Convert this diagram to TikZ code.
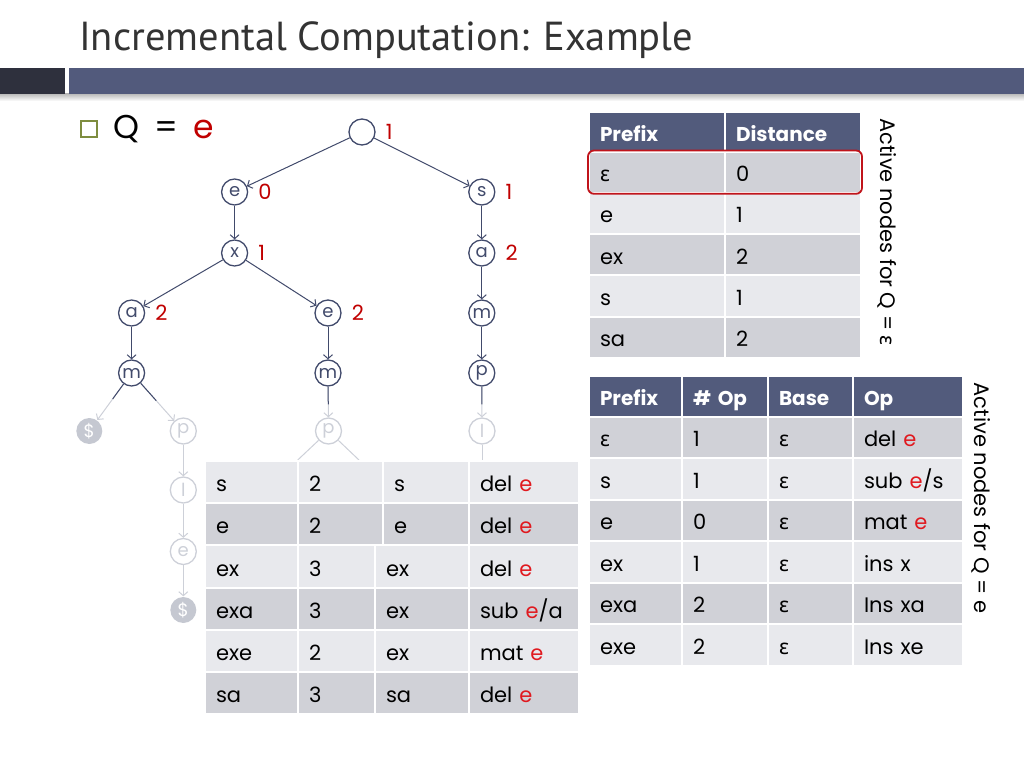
\documentclass[tikz,border=0pt]{standalone}
\usepackage{fontspec}
\setmainfont{Poppins}
\newfontfamily\titlefont{PT Sans}
\newfontfamily\grkfont{Noto Sans}
\usepackage{tikz}
\usetikzlibrary{arrows.meta,positioning,fit,calc}
\usepackage{xcolor}
\definecolor{headblue}{HTML}{525B7C}
\definecolor{rowdark}{HTML}{D0D1D7}
\definecolor{rowlight}{HTML}{E8E9ED}
\definecolor{bardark}{HTML}{2E303D}
\definecolor{barblue}{HTML}{525A7C}
\definecolor{treeblue}{HTML}{414A6B}
\definecolor{fadegray}{HTML}{CDD0D8}
\definecolor{dolfill}{HTML}{C5C8D1}
\definecolor{treered}{HTML}{C00000}
\definecolor{opred}{HTML}{E0191F}
\definecolor{hlred}{HTML}{C0141B}
\definecolor{bulletgreen}{HTML}{7E8D3F}
\definecolor{titlegray}{HTML}{333333}
\newcommand{\epsch}{{\grkfont ε}}
\newcommand{\qe}{\textcolor{opred}{e}}
\tikzset{
  trienode/.style={
    circle,
    draw=treeblue,
    line width=1.3pt,
    minimum size=26pt,
    inner sep=0pt,
    text=treeblue,
    font=\fontsize{18}{18}\selectfont
  },
  fadenode/.style={trienode, draw=fadegray, text=fadegray},
  endnode/.style={trienode, draw=none, fill=dolfill, text=white},
  distlabel/.style={
    inner sep=0pt,
    text=treered,
    font=\fontsize{21}{21}\selectfont
  },
  edge/.style={
    -{Straight Barb[length=4pt,width=9pt]},
    line width=1pt,
    draw=treeblue
  },
  fadeedge/.style={edge, draw=fadegray},
  cell/.style={
    rectangle,
    draw=white,
    line width=2pt,
    outer sep=0pt,
    inner xsep=11pt,
    inner ysep=0pt,
    align=left,
    text=black,
    text height=22pt,
    text depth=3pt,
    font=\fontsize{21}{24}\selectfont
  },
  darkcell/.style={cell, fill=rowdark},
  lightcell/.style={cell, fill=rowlight},
  headcell/.style={
    cell,
    fill=headblue,
    text=white,
    font=\fontsize{20}{24}\selectfont\bfseries
  },
  w114/.style={text width=114pt},
  w88/.style={text width=88pt},
  w72/.style={text width=72pt},
  w71/.style={text width=71pt},
  w64/.style={text width=64pt},
  w63/.style={text width=63pt},
  w55/.style={text width=55pt}
}

\begin{document}
\begin{tikzpicture}[x=1pt, y=-1pt]
\useasboundingbox (0,0) rectangle (1024,768);

% title and bar
\node[anchor=base west, inner sep=0pt, text=titlegray, font=\titlefont\fontsize{40.5}{40}\selectfont] (title) at (79,50) {Incremental Computation: Example};
\shade[top color=black!30, bottom color=white] (0,93) rectangle (1024,101);
\fill[bardark] (0,68) rectangle (65,93.5);
\fill[barblue] (68.5,68) rectangle (1024,93.5);

% query
\node[draw=bulletgreen, line width=1.2pt, minimum size=16pt, inner sep=0pt] (bullet) at (89,129) {};
\node[anchor=base west, inner sep=0pt, font=\fontsize{33}{33}\selectfont] (query) at (113,138) {Q\hspace{15pt}=\hspace{15pt}\textcolor{treered}{e}};

% trie
\node[trienode] (root) at (362,132) {};
\node[trienode] (ne) at (234.6,192) {e};
\node[trienode] (ns) at (481.8,192) {s};
\node[trienode] (nx) at (234.6,253) {x};
\node[trienode] (nsa) at (481.8,253) {a};
\node[trienode] (nxa) at (131.6,313) {a};
\node[trienode] (nxe) at (328,313) {e};
\node[trienode] (nsm) at (481.8,313) {m};
\node[trienode] (nxam) at (131.6,373) {m};
\node[trienode] (nxem) at (328,373) {m};
\node[trienode] (nsmp) at (481.8,373) {p};
\node[endnode] (fdol) at (89.3,431) {\$};
\node[fadenode] (fp) at (183.3,431) {p};
\node[fadenode] (fmp) at (328.5,431) {p};
\node[fadenode] (fl) at (482,431) {l};
\node[fadenode] (fpl) at (183.3,490) {l};
\node[fadenode] (fple) at (183.3,551.5) {e};
\node[endnode] (fdol2) at (183.3,610) {\$};
\coordinate (cutl) at (297.7,460);
\coordinate (cutr) at (359,460);
\coordinate (cuts) at (482,460);

\node[distlabel, right=10pt of root] (droot) {1};
\node[distlabel, right=10pt of ne] (dne) {0};
\node[distlabel, right=10pt of ns] (dns) {1};
\node[distlabel, right=10pt of nx] (dnx) {1};
\node[distlabel, right=10pt of nsa] (dnsa) {2};
\node[distlabel, right=10pt of nxa] (dnxa) {2};
\node[distlabel, right=10pt of nxe] (dnxe) {2};

\draw[edge] (root) -- (ne);
\draw[edge] (root) -- (ns);
\draw[edge] (ne) -- (nx);
\draw[edge] (ns) -- (nsa);
\draw[edge] (nx) -- (nxa);
\draw[edge] (nx) -- (nxe);
\draw[edge] (nsa) -- (nsm);
\draw[edge] (nxa) -- (nxam);
\draw[edge] (nxe) -- (nxem);
\draw[edge] (nsm) -- (nsmp);
\draw[fadeedge] (nxam) -- (fdol);
\draw[fadeedge] (nxam) -- (fp);
\draw[fadeedge] (nxem) -- (fmp);
\draw[fadeedge] (nsmp) -- (fl);
\draw[edge, -, shorten >=26pt] (nxam) -- (fdol);
\draw[edge, -, shorten >=27pt] (nxam) -- (fp);
\draw[edge, -, shorten >=13pt] (nxem) -- (fmp);
\draw[edge, -, shorten >=13pt] (nsmp) -- (fl);
\draw[fadeedge] (fp) -- (fpl);
\draw[fadeedge] (fpl) -- (fple);
\draw[fadeedge] (fple) -- (fdol2);
\draw[fadeedge, -] (fmp) -- (cutl);
\draw[fadeedge, -] (fmp) -- (cutr);
\draw[fadeedge, -] (fl) -- (cuts);

% distance table
\node[headcell, w114, minimum height=40pt, anchor=north west] (dh1) at (589,111.5) {Prefix};
\node[headcell, w114, minimum height=40pt, right=0pt of dh1] (dh2) {Distance};
\node[darkcell, w114, minimum height=41.3pt, below=0pt of dh1] (d1a) {\epsch};
\node[darkcell, w114, minimum height=41.3pt, right=0pt of d1a] (d1b) {0};
\node[lightcell, w114, minimum height=41.3pt, below=0pt of d1a] (d2a) {e};
\node[lightcell, w114, minimum height=41.3pt, right=0pt of d2a] (d2b) {1};
\node[darkcell, w114, minimum height=41.3pt, below=0pt of d2a] (d3a) {ex};
\node[darkcell, w114, minimum height=41.3pt, right=0pt of d3a] (d3b) {2};
\node[lightcell, w114, minimum height=41.3pt, below=0pt of d3a] (d4a) {s};
\node[lightcell, w114, minimum height=41.3pt, right=0pt of d4a] (d4b) {1};
\node[darkcell, w114, minimum height=41.3pt, below=0pt of d4a] (d5a) {sa};
\node[darkcell, w114, minimum height=41.3pt, right=0pt of d5a] (d5b) {2};
\node[fit=(d1a)(d1b), inner sep=1pt, rounded corners=6pt, draw=hlred, line width=1.8pt] (pick) {};
\node[rotate=-90, inner sep=0pt, font=\fontsize{21}{21}\selectfont] (side1) at (887,232) {Active nodes for Q = \epsch};

% operation table
\node[headcell, w71, minimum height=41pt, anchor=north west] (oh1) at (589,375.5) {Prefix};
\node[headcell, w64, minimum height=41pt, right=0pt of oh1] (oh2) {\# Op};
\node[headcell, w63, minimum height=41pt, right=0pt of oh2] (oh3) {Base};
\node[headcell, w88, minimum height=41pt, right=0pt of oh3] (oh4) {Op};
\node[darkcell, w71, minimum height=41.5pt, below=0pt of oh1] (o1a) {\epsch};
\node[darkcell, w64, minimum height=41.5pt, right=0pt of o1a] (o1b) {1};
\node[darkcell, w63, minimum height=41.5pt, right=0pt of o1b] (o1c) {\epsch};
\node[darkcell, w88, minimum height=41.5pt, right=0pt of o1c] (o1d) {del \qe};
\node[lightcell, w71, minimum height=41.5pt, below=0pt of o1a] (o2a) {s};
\node[lightcell, w64, minimum height=41.5pt, right=0pt of o2a] (o2b) {1};
\node[lightcell, w63, minimum height=41.5pt, right=0pt of o2b] (o2c) {\epsch};
\node[lightcell, w88, minimum height=41.5pt, right=0pt of o2c] (o2d) {sub \qe/s};
\node[darkcell, w71, minimum height=41.5pt, below=0pt of o2a] (o3a) {e};
\node[darkcell, w64, minimum height=41.5pt, right=0pt of o3a] (o3b) {0};
\node[darkcell, w63, minimum height=41.5pt, right=0pt of o3b] (o3c) {\epsch};
\node[darkcell, w88, minimum height=41.5pt, right=0pt of o3c] (o3d) {mat \qe};
\node[lightcell, w71, minimum height=41.5pt, below=0pt of o3a] (o4a) {ex};
\node[lightcell, w64, minimum height=41.5pt, right=0pt of o4a] (o4b) {1};
\node[lightcell, w63, minimum height=41.5pt, right=0pt of o4b] (o4c) {\epsch};
\node[lightcell, w88, minimum height=41.5pt, right=0pt of o4c] (o4d) {ins x};
\node[darkcell, w71, minimum height=41.5pt, below=0pt of o4a] (o5a) {exa};
\node[darkcell, w64, minimum height=41.5pt, right=0pt of o5a] (o5b) {2};
\node[darkcell, w63, minimum height=41.5pt, right=0pt of o5b] (o5c) {\epsch};
\node[darkcell, w88, minimum height=41.5pt, right=0pt of o5c] (o5d) {Ins xa};
\node[lightcell, w71, minimum height=41.5pt, below=0pt of o5a] (o6a) {exe};
\node[lightcell, w64, minimum height=41.5pt, right=0pt of o6a] (o6b) {2};
\node[lightcell, w63, minimum height=41.5pt, right=0pt of o6b] (o6c) {\epsch};
\node[lightcell, w88, minimum height=41.5pt, right=0pt of o6c] (o6d) {Ins xe};
\node[rotate=-90, inner sep=0pt, font=\fontsize{21}{21}\selectfont] (side2) at (981.5,498) {Active nodes for Q = e};

% candidate table
\node[lightcell, w71, minimum height=42.2pt, anchor=north west] (c1a) at (205,461) {s};
\node[lightcell, w63, minimum height=42.2pt, right=0pt of c1a] (c1b) {2};
\node[lightcell, w64, minimum height=42.2pt, right=0pt of c1b] (c1c) {s};
\node[lightcell, w88, minimum height=42.2pt, right=0pt of c1c] (c1d) {del \qe};
\node[darkcell, w71, minimum height=42.2pt, below=0pt of c1a] (c2a) {e};
\node[darkcell, w63, minimum height=42.2pt, right=0pt of c2a] (c2b) {2};
\node[darkcell, w64, minimum height=42.2pt, right=0pt of c2b] (c2c) {e};
\node[darkcell, w88, minimum height=42.2pt, right=0pt of c2c] (c2d) {del \qe};
\node[lightcell, w71, minimum height=42.2pt, below=0pt of c2a] (c3a) {ex};
\node[lightcell, w55, minimum height=42.2pt, right=0pt of c3a] (c3b) {3};
\node[lightcell, w72, minimum height=42.2pt, right=0pt of c3b] (c3c) {ex};
\node[lightcell, w88, minimum height=42.2pt, right=0pt of c3c] (c3d) {del \qe};
\node[darkcell, w71, minimum height=42.2pt, below=0pt of c3a] (c4a) {exa};
\node[darkcell, w55, minimum height=42.2pt, right=0pt of c4a] (c4b) {3};
\node[darkcell, w72, minimum height=42.2pt, right=0pt of c4b] (c4c) {ex};
\node[darkcell, w88, minimum height=42.2pt, right=0pt of c4c] (c4d) {sub \qe/a};
\node[lightcell, w71, minimum height=42.2pt, below=0pt of c4a] (c5a) {exe};
\node[lightcell, w55, minimum height=42.2pt, right=0pt of c5a] (c5b) {2};
\node[lightcell, w72, minimum height=42.2pt, right=0pt of c5b] (c5c) {ex};
\node[lightcell, w88, minimum height=42.2pt, right=0pt of c5c] (c5d) {mat \qe};
\node[darkcell, w71, minimum height=42.2pt, below=0pt of c5a] (c6a) {sa};
\node[darkcell, w55, minimum height=42.2pt, right=0pt of c6a] (c6b) {3};
\node[darkcell, w72, minimum height=42.2pt, right=0pt of c6b] (c6c) {sa};
\node[darkcell, w88, minimum height=42.2pt, right=0pt of c6c] (c6d) {del \qe};
\end{tikzpicture}
\end{document}
